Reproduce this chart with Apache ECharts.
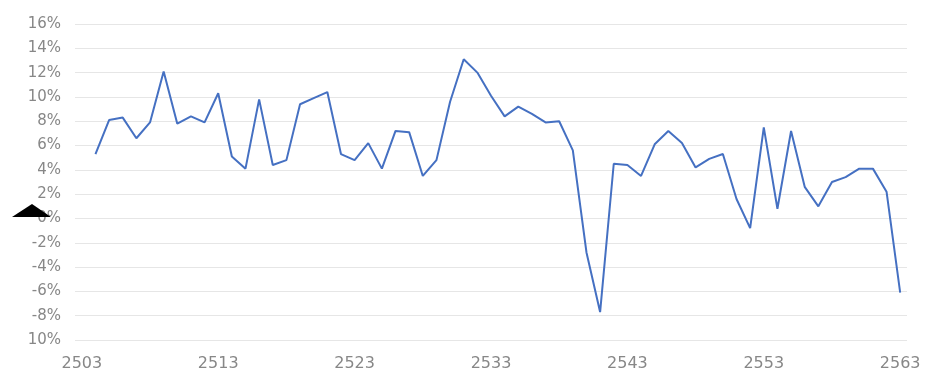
<!DOCTYPE html>
<html>
<head>
<meta charset="utf-8">
<script src="https://cdn.jsdelivr.net/npm/echarts@6/dist/echarts.min.js"></script>
<style>
  html, body { margin: 0; padding: 0; background: #fff; }
  #chart { width: 932px; height: 374px; }
</style>
</head>
<body>
<div id="chart"></div>
<script>
// years on the x axis (Thai BE), first year has no value
var years = [];
for (var y = 2503; y <= 2563; y++) years.push(String(y));

// growth rate, %
var growth = [
  null, 5.3, 8.1, 8.3, 6.6, 7.9, 12.1, 7.8, 8.4, 7.9,
  10.3, 5.1, 4.1, 9.8, 4.4, 4.8, 9.4, 9.9, 10.4, 5.3,
  4.8, 6.2, 4.1, 7.2, 7.1, 3.5, 4.8, 9.6, 13.1, 12.0,
  10.1, 8.4, 9.2, 8.6, 7.9, 8.0, 5.6, -2.8, -7.7, 4.5,
  4.4, 3.5, 6.1, 7.2, 6.2, 4.2, 4.9, 5.3, 1.6, -0.8,
  7.5, 0.8, 7.2, 2.6, 1.0, 3.0, 3.4, 4.1, 4.1, 2.2,
  -6.1
];

// y tick labels as printed, bottom to top
var yMin = -10, yMax = 16, yStep = 2;
var yTickLabels = ["10%", "-8%", "-6%", "-4%", "-2%", "0%", "2%", "4%",
  "6%", "8%", "10%", "12%", "14%", "16%"];

var chart = echarts.init(document.getElementById("chart"));

var option = {
  animation: false,
  grid: { left: 75, right: 25, top: 24, bottom: 34 },
  xAxis: {
    type: "category",
    data: years,
    boundaryGap: true,
    axisLine: { show: false },
    axisTick: { show: false },
    axisLabel: {
      interval: 9,
      margin: 16,
      color: "#878787",
      fontSize: 16,
      fontFamily: "DejaVu Sans"
    },
    splitLine: { show: false }
  },
  yAxis: {
    type: "value",
    min: yMin,
    max: yMax,
    interval: yStep,
    axisLine: { show: false },
    axisTick: { show: false },
    axisLabel: {
      margin: 14,
      color: "#878787",
      fontSize: 15,
      fontFamily: "DejaVu Sans",
      formatter: function (v) {
        return yTickLabels[Math.round((v - yMin) / yStep)];
      }
    },
    splitLine: { lineStyle: { color: "#e6e6e6", width: 1 } }
  },
  series: [{
    type: "line",
    data: growth,
    showSymbol: false,
    connectNulls: false,
    lineStyle: { color: "#4570c2", width: 2 }
  }],
  // black arrowhead shape over the 0% label
  graphic: [{
    type: "polygon",
    shape: { points: [[12, 217], [32, 204], [51, 217]] },
    style: { fill: "#000" },
    z: 100
  }]
};
chart.setOption(option);
</script>
</body>
</html>
